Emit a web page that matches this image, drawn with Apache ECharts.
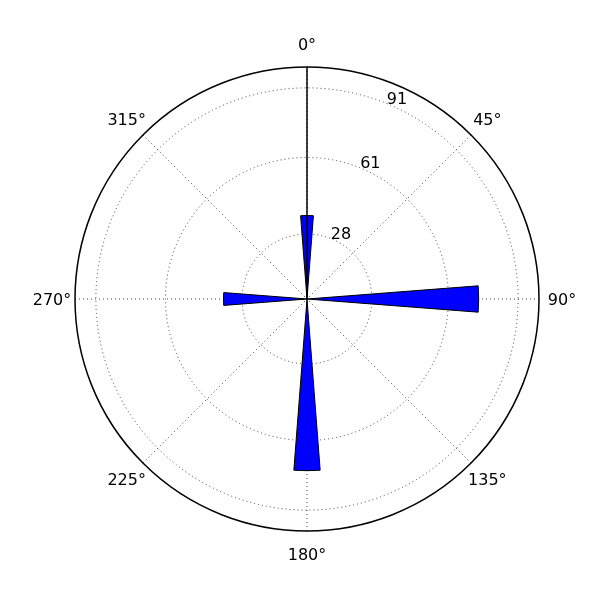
<!DOCTYPE html>
<html>
<head>
<meta charset="utf-8">
<script src="https://cdn.jsdelivr.net/npm/echarts@6/dist/echarts.min.js"></script>
<style>html,body{margin:0;padding:0;background:#fff}#c{width:600px;height:600px}</style>
</head>
<body>
<div id="c"></div>
<script>
// Data
const barAngles = [0, 90, 180, 270];      // degrees, clockwise from north
const barValues = [36, 74, 74, 36];       // radial length
const barWidthDeg = 8.8;                  // angular width of each bar
const lineRadius = [0, 100];              // black line from centre
const lineAngle = [0, 0];
const radialTicks = [28, 61, 91];
const radialTickLabels = ['28', '61', '91'];
const radialLabelAngle = 22.5;
const angleTicks = [0, 45, 90, 135, 180, 225, 270, 315];
const angleTickLabels = ['0°', '45°', '90°', '135°', '180°', '225°', '270°', '315°'];
const radiusMax = 100;

const chart = echarts.init(document.getElementById('c'));
const FONTCSS = '16px "DejaVu Sans"';

function center(params) {
  const cs = params.coordSys;
  return [cs.cx, cs.cy];
}
function dist(p, c) { return Math.hypot(p[0] - c[0], p[1] - c[1]); }
function ang(p, c) { return Math.atan2(p[1] - c[1], p[0] - c[0]); }

chart.setOption({
  animation: false,
  backgroundColor: '#ffffff',
  polar: { center: [307, 299], radius: 232 },
  angleAxis: {
    type: 'value', min: 0, max: 360, interval: 45,
    startAngle: 90, clockwise: true,
    axisLine: { show: true, lineStyle: { color: '#000', width: 1.5 } },
    axisTick: { show: false },
    axisLabel: { show: false },
    splitLine: { show: true, lineStyle: { color: '#444', width: 1, type: [1, 3] } }
  },
  radiusAxis: {
    type: 'value', min: 0, max: radiusMax,
    axisLine: { show: false }, axisTick: { show: false },
    axisLabel: { show: false }, splitLine: { show: false }
  },
  series: [
    {
      type: 'custom', coordinateSystem: 'polar', silent: true, z: 1,
      data: radialTicks.map((v, i) => [v, i]),
      renderItem: function (params, api) {
        const v = api.value(0);
        const i = api.value(1);
        const c = center(params);
        const r = dist(api.coord([v, 0]), c);
        const lp = api.coord([v, radialLabelAngle]);
        return {
          type: 'group',
          children: [
            { type: 'circle', shape: { cx: c[0], cy: c[1], r: r },
              style: { fill: 'none', stroke: '#444', lineWidth: 1, lineDash: [1, 3] } },
            { type: 'text', x: lp[0] - 1, y: lp[1] + 4,
              style: { text: radialTickLabels[i], fill: '#000', font: FONTCSS,
                       align: 'left', verticalAlign: 'bottom' }, z2: 10 }
          ]
        };
      }
    },
    {
      type: 'custom', coordinateSystem: 'polar', silent: true, z: 2,
      data: angleTicks.map((a, i) => [radiusMax, a, i]),
      renderItem: function (params, api) {
        const v = api.value(0);
        const a = api.value(1);
        const i = api.value(2);
        const c = center(params);
        const p = api.coord([v, a]);
        const R = dist(p, c);
        const k = (R + 23) / R;
        return {
          type: 'text',
          x: c[0] + (p[0] - c[0]) * k,
          y: c[1] + (p[1] - c[1]) * k + 2,
          style: { text: angleTickLabels[i], fill: '#000', font: FONTCSS,
                   align: 'center', verticalAlign: 'middle' }
        };
      }
    },
    {
      type: 'custom', coordinateSystem: 'polar', silent: true, z: 3,
      data: barAngles.map((a, i) => [barValues[i], a]),
      renderItem: function (params, api) {
        const v = api.value(0);
        const a = api.value(1);
        const c = center(params);
        const p1 = api.coord([v, a - barWidthDeg / 2]);
        const p2 = api.coord([v, a + barWidthDeg / 2]);
        const r = dist(p1, c);
        let s = ang(p1, c), e = ang(p2, c);
        if (e < s) e += Math.PI * 2;
        return {
          type: 'sector',
          shape: { cx: c[0], cy: c[1], r0: 0, r: r, startAngle: s, endAngle: e, clockwise: true },
          style: { fill: '#0000ff', stroke: '#000', lineWidth: 1 }
        };
      }
    },
    {
      type: 'line', coordinateSystem: 'polar', silent: true, z: 4,
      symbol: 'none',
      lineStyle: { color: '#000', width: 1.5 },
      data: lineRadius.map((r, i) => [r, lineAngle[i]])
    }
  ]
});
</script>
</body>
</html>
